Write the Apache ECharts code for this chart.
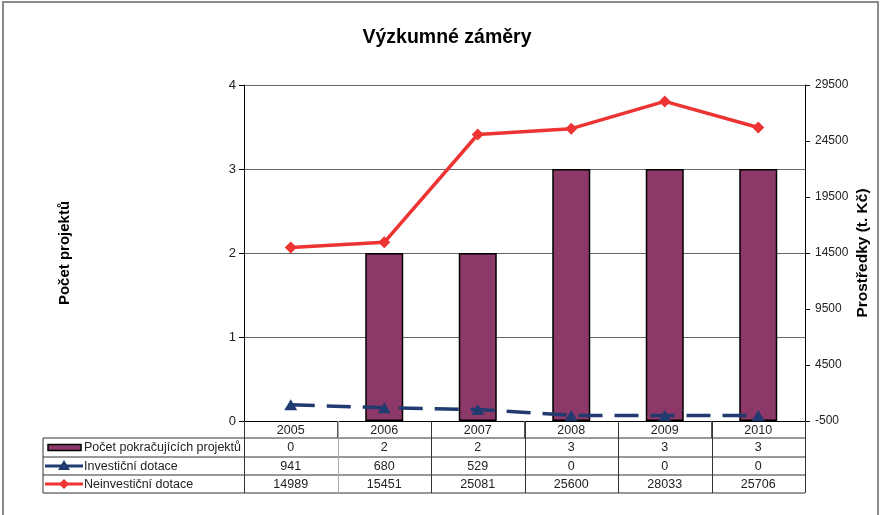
<!DOCTYPE html>
<html><head><meta charset="utf-8">
<script src="https://cdn.jsdelivr.net/npm/echarts@6/dist/echarts.min.js"></script>
<style>html,body{margin:0;padding:0;background:#fff}#c{width:880px;height:515px}</style>
</head><body><div id="c"></div>
<script>
const categories = ['2005','2006','2007','2008','2009','2010'];
const seriesNames = ['Počet pokračujících projektů','Investiční dotace','Neinvestiční dotace'];
const projects = [0, 2, 2, 3, 3, 3];
const investment = [941, 680, 529, 0, 0, 0];
const nonInvestment = [14989, 15451, 25081, 25600, 28033, 25706];
const leftTicks = [0, 1, 2, 3, 4];
const rightTicks = [-500, 4500, 9500, 14500, 19500, 24500, 29500];

const FONT = '"Liberation Sans", Arial, sans-serif';
const G = {left: 244, right: 805, top: 85, bottom: 421};
const colW = (G.right - G.left) / categories.length;
const rows = [438, 457, 475, 493];
const tableLeft = 43;
const barColor = '#8C3868', blue = '#213A70', red = '#EE3333';

const chart = echarts.init(document.getElementById('c'), null, {renderer: 'canvas'});

const graphic = [];
graphic.push({type:'rect', shape:{x:3, y:2, width:875, height:530}, style:{fill:'none', stroke:'#8a8a8a', lineWidth:2}, silent:true, z:0});
rows.forEach(y => graphic.push({type:'line', shape:{x1:tableLeft, y1:y, x2:G.right, y2:y}, style:{stroke:'#333', lineWidth:1}, z:10}));
graphic.push({type:'line', shape:{x1:tableLeft, y1:rows[0], x2:tableLeft, y2:rows[3]}, style:{stroke:'#333', lineWidth:1}, z:10});
for (let i = 0; i <= categories.length; i++) {
  const x = Math.round(G.left + i * colW) + 0.5;
  graphic.push({type:'line', shape:{x1:x, y1:G.bottom, x2:x, y2:rows[3]}, style:{stroke:(i===1?'#aaa':'#333'), lineWidth:1}, z:10});
}
const rowData = [projects, investment, nonInvestment];
rowData.forEach((arr, r) => {
  const yc = (rows[r] + rows[r+1]) / 2 + 0.5;
  arr.forEach((v, i) => {
    graphic.push({type:'text', x: G.left + (i + 0.5) * colW, y: yc, style:{text:String(v), font:'12.5px ' + FONT, fill:'#222', align:'center', verticalAlign:'middle'}, z:11});
  });
  graphic.push({type:'text', x: 84, y: yc, style:{text:seriesNames[r], font:'12.5px ' + FONT, fill:'#222', align:'left', verticalAlign:'middle'}, z:11});
});
let yc0 = (rows[0] + rows[1]) / 2;
graphic.push({type:'rect', shape:{x:48, y:yc0-3, width:33, height:6}, style:{fill:barColor, stroke:'#000', lineWidth:1.5}, z:11});
let yc1 = (rows[1] + rows[2]) / 2;
graphic.push({type:'line', shape:{x1:45, y1:yc1, x2:83, y2:yc1}, style:{stroke:blue, lineWidth:3}, z:11});
graphic.push({type:'polygon', shape:{points:[[58,yc1+4],[64,yc1-6],[70,yc1+4]]}, style:{fill:blue}, z:12});
let yc2 = (rows[2] + rows[3]) / 2;
graphic.push({type:'line', shape:{x1:45, y1:yc2, x2:83, y2:yc2}, style:{stroke:red, lineWidth:3}, z:11});
graphic.push({type:'polygon', shape:{points:[[64,yc2-5],[69,yc2],[64,yc2+5],[59,yc2]]}, style:{fill:red}, z:12});

const option = {
  animation: false,
  backgroundColor: '#fff',
  textStyle: {fontFamily: FONT},
  title: {text: 'Výzkumné záměry', left: 442, top: 23, textAlign: 'center',
    textStyle: {fontSize: 19.5, fontWeight: 'bold', color: '#000', fontFamily: FONT}},
  grid: {left: G.left, right: 880 - G.right, top: G.top, bottom: 515 - G.bottom, containLabel: false, outerBoundsMode: 'none'},
  xAxis: {type: 'category', data: categories, boundaryGap: true,
    axisLine: {show: true, lineStyle: {color: '#000', width: 1}},
    axisTick: {show: true, length: 17, lineStyle: {color: '#555'}},
    axisLabel: {color: '#222', fontSize: 12.5, margin: 3, fontFamily: FONT}},
  yAxis: [
    {type: 'value', min: 0, max: 4, interval: 1,
      name: 'Počet projektů', nameLocation: 'middle', nameRotate: 90, nameGap: 172, nameMoveOverlap: false,
      nameTextStyle: {fontSize: 15, fontWeight: 'bold', color: '#000', fontFamily: FONT},
      axisLine: {show: true, lineStyle: {color: '#000'}},
      axisTick: {show: true, length: 5, lineStyle: {color: '#000'}},
      axisLabel: {color: '#222', fontSize: 13, margin: 8, fontFamily: FONT, formatter: v => leftTicks.includes(v) ? String(v) : ''},
      splitLine: {show: true, lineStyle: {color: '#666', width: 1.2}}},
    {type: 'value', min: -500, max: 29500, interval: 5000, position: 'right',
      name: 'Prostředky (t. Kč)', nameLocation: 'middle', nameRotate: 90, nameGap: 50, nameMoveOverlap: false,
      nameTextStyle: {fontSize: 15.5, fontWeight: 'bold', color: '#000', fontFamily: FONT},
      axisLine: {show: true, lineStyle: {color: '#000'}},
      axisTick: {show: true, length: 5, lineStyle: {color: '#000'}},
      axisLabel: {color: '#222', fontSize: 12, margin: 10, fontFamily: FONT, formatter: v => rightTicks.includes(v) ? String(v) : ''},
      splitLine: {show: false}}
  ],
  series: [
    {name: seriesNames[0], type: 'bar', yAxisIndex: 0, barWidth: 38,
      data: projects.map(v => v === 0 ? {value: v, itemStyle: {borderWidth: 0, opacity: 0}} : v),
      itemStyle: {color: barColor, borderColor: '#000', borderWidth: 1.5}, z: 2},
    {name: seriesNames[1], type: 'line', data: investment, yAxisIndex: 1,
      symbol: 'triangle', symbolSize: [13, 11], itemStyle: {color: blue},
      lineStyle: {color: blue, width: 3.5, type: [24, 12]}, z: 4},
    {name: seriesNames[2], type: 'line', data: nonInvestment, yAxisIndex: 1,
      symbol: 'diamond', symbolSize: [12, 12], itemStyle: {color: red},
      lineStyle: {color: red, width: 3.5}, z: 5}
  ],
  graphic: graphic
};
chart.setOption(option);
</script></body></html>
